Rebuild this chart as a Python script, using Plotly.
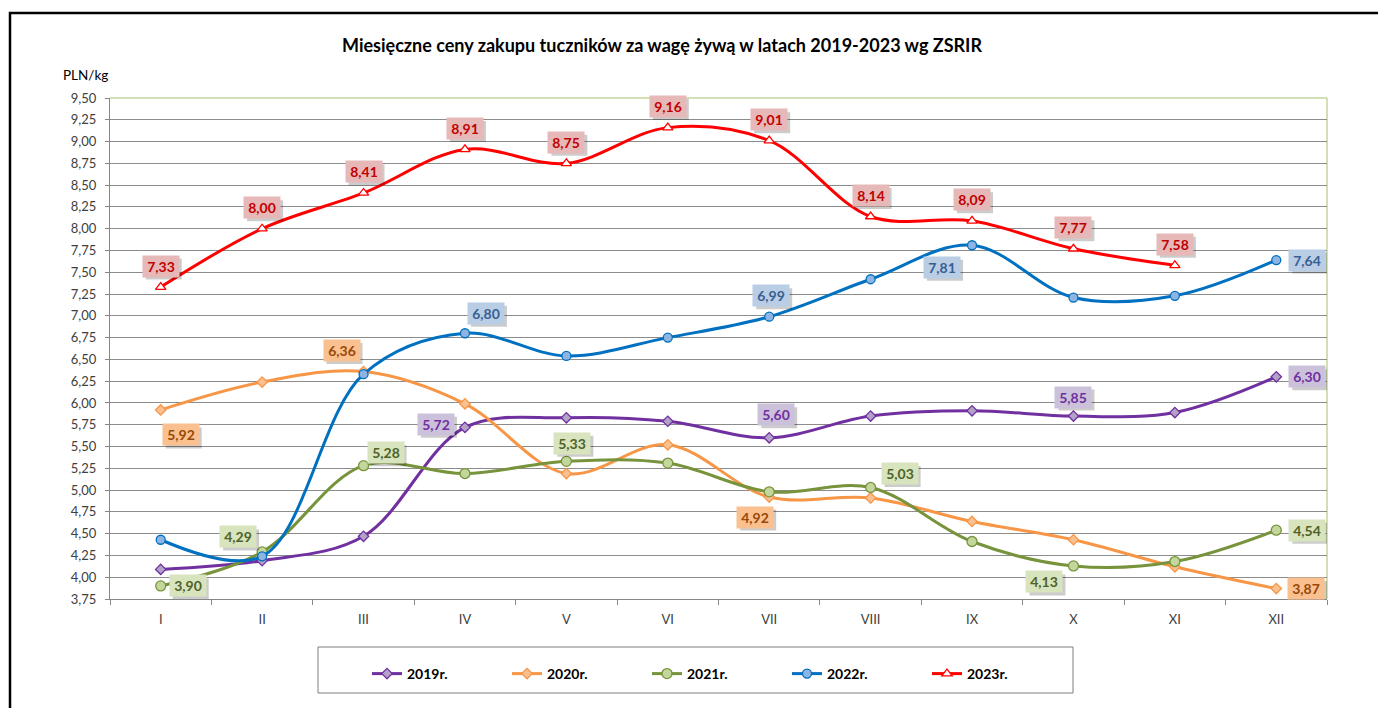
import plotly.graph_objects as go

months = ["I", "II", "III", "IV", "V", "VI", "VII", "VIII", "IX", "X", "XI", "XII"]
y2019 = [4.09, 4.19, 4.47, 5.72, 5.83, 5.79, 5.60, 5.85, 5.91, 5.85, 5.89, 6.30]
y2020 = [5.92, 6.24, 6.36, 5.99, 5.19, 5.52, 4.92, 4.91, 4.64, 4.43, 4.12, 3.87]
y2021 = [3.90, 4.29, 5.28, 5.19, 5.33, 5.31, 4.98, 5.03, 4.41, 4.13, 4.18, 4.54]
y2022 = [4.43, 4.24, 6.33, 6.80, 6.54, 6.75, 6.99, 7.42, 7.81, 7.21, 7.23, 7.64]
y2023 = [7.33, 8.00, 8.41, 8.91, 8.75, 9.16, 9.01, 8.14, 8.09, 7.77, 7.58, None]
series_names = ["2019r.", "2020r.", "2021r.", "2022r.", "2023r."]
title_text = "Miesięczne ceny zakupu tuczników za wagę żywą w latach 2019-2023 wg ZSRIR"
unit_text = "PLN/kg"

FONT = "Lato"
styles = [
    dict(line="#7030A0", mfill="#B3A2C7", sym="diamond", size=8, box="#CCC1DA", txt="#7030A0"),
    dict(line="#F79646", mfill="#FAC090", sym="diamond", size=8, box="#FAC090", txt="#984807"),
    dict(line="#77933C", mfill="#C3D69B", sym="circle", size=10, box="#D7E4BD", txt="#4F6228"),
    dict(line="#0070C0", mfill="#8EB4E3", sym="circle", size=9, box="#B9CDE5", txt="#376092"),
    dict(line="#FF0000", mfill="#FFFFFF", sym="triangle-up", size=9, box="#E6B9B8", txt="#C00000"),
]
data = [y2019, y2020, y2021, y2022, y2023]

# which points get labels: (series index, month index, xshift, yshift)
labels = [
    (0, 3, -29, 3), (0, 6, 7, 23), (0, 9, 0, 19), (0, 11, 31, 0),
    (1, 0, 20, -25), (1, 2, -22, 21), (1, 6, -14, -20), (1, 11, 30, 0),
    (2, 0, 27, 0), (2, 1, -24, 15), (2, 2, 22, 13), (2, 4, 6, 18),
    (2, 7, 29, 14), (2, 9, -29, -16), (2, 11, 31, 0),
    (3, 3, 21, 20), (3, 6, 2, 21), (3, 8, -30, -22), (3, 11, 31, 0),
] + [(4, i, 0, 21) for i in range(11)]

W, H = 1378, 708
L, R, T, B = 110, 51, 98, 109
PW, PH = W - L - R, H - T - B
def px(x):
    return (x - L) / PW
def py(y):
    return (H - B - y) / PH

fig = go.Figure()
for name, ys, st in zip(series_names, data, styles):
    fig.add_trace(go.Scatter(
        x=months, y=ys, name=name, mode="lines+markers",
        line=dict(color=st["line"], width=3, shape="spline", smoothing=1),
        marker=dict(symbol=st["sym"], size=st["size"], color=st["mfill"],
                    line=dict(color=st["line"], width=1.3)),
        connectgaps=False,
    ))

ann = []
shapes = []
BW, BH = 36, 21
for si, mi, dx, dy in labels:
    st = styles[si]
    v = data[si][mi]
    txt = f"{v:.2f}".replace(".", ",")
    cx, cy = dx + 3, dy - 3
    shapes.append(dict(type="rect", xref="x", yref="y", xsizemode="pixel", ysizemode="pixel",
                       xanchor=mi, yanchor=v,
                       x0=cx - BW / 2, x1=cx + BW / 2, y0=cy - BH / 2, y1=cy + BH / 2,
                       fillcolor="rgba(0,0,0,0.20)", line=dict(width=0), layer="above"))
    ann.append(dict(x=months[mi], y=v, xref="x", yref="y", text=f"<b>{txt}</b>", showarrow=False,
                    xshift=dx, yshift=dy, bgcolor=st["box"], width=BW - 4, height=BH - 4,
                    font=dict(family=FONT, size=14, color=st["txt"]), borderpad=2))

ann.append(dict(x=px(662), y=py(45), xref="paper", yref="paper", text=f"<b>{title_text}</b>",
                showarrow=False, xanchor="center", yanchor="middle",
                font=dict(family=FONT, size=18, color="#000000")))
ann.append(dict(x=px(85), y=py(75), xref="paper", yref="paper", text=unit_text,
                showarrow=False, xanchor="center", yanchor="middle",
                font=dict(family=FONT, size=13.5, color="#000000")))

shapes += [
    dict(type="rect", xref="paper", yref="paper", x0=px(10), x1=px(1392), y0=py(13), y1=py(720),
         line=dict(color="#000000", width=2.5), fillcolor="rgba(0,0,0,0)", layer="above"),
    dict(type="rect", xref="paper", yref="paper", x0=px(318), x1=px(1073), y0=py(647), y1=py(693),
         line=dict(color="#7f7f7f", width=1), fillcolor="rgba(0,0,0,0)"),
    dict(type="line", xref="paper", yref="paper", x0=0, x1=1, y0=1, y1=1,
         line=dict(color="#C3D69B", width=1.5), layer="below"),
    dict(type="line", xref="paper", yref="paper", x0=1, x1=1, y0=0, y1=1,
         line=dict(color="#C3D69B", width=1.5), layer="below"),
]

fig.update_layout(
    width=W, height=H,
    margin=dict(l=L, r=R, t=T, b=B),
    paper_bgcolor="#FFFFFF", plot_bgcolor="#FFFFFF",
    separators=", ",
    font=dict(family=FONT, size=13, color="#404040"),
    annotations=ann, shapes=shapes,
    showlegend=True,
    legend=dict(orientation="h", x=px(367), y=py(658), xanchor="left", yanchor="top",
                font=dict(family=FONT, size=14, color="#000000", weight="bold"),
                entrywidth=95, entrywidthmode="pixels", itemwidth=30,
                bgcolor="rgba(0,0,0,0)", borderwidth=0),
    xaxis=dict(type="category", range=[-0.5, 11.5], tickson="boundaries", ticks="outside",
               ticklen=5, tickcolor="#868686", showline=True, linecolor="#868686", linewidth=1,
               showgrid=False, ticklabelstandoff=8,
               tickfont=dict(family=FONT, size=13, color="#404040")),
    yaxis=dict(range=[3.75, 9.5], dtick=0.25, tick0=3.75, tickformat=".2f", ticks="outside",
               ticklen=4, tickcolor="#868686", showline=True, linecolor="#868686", linewidth=1,
               showgrid=True, gridcolor="#8c8c8c", gridwidth=1, zeroline=False,
               ticklabelstandoff=6,
               tickfont=dict(family=FONT, size=13, color="#404040")),
)

fig.write_html("out.html", config={"displayModeBar": False},
               post_script="document.body.style.margin='0';document.body.style.overflow='hidden';")
